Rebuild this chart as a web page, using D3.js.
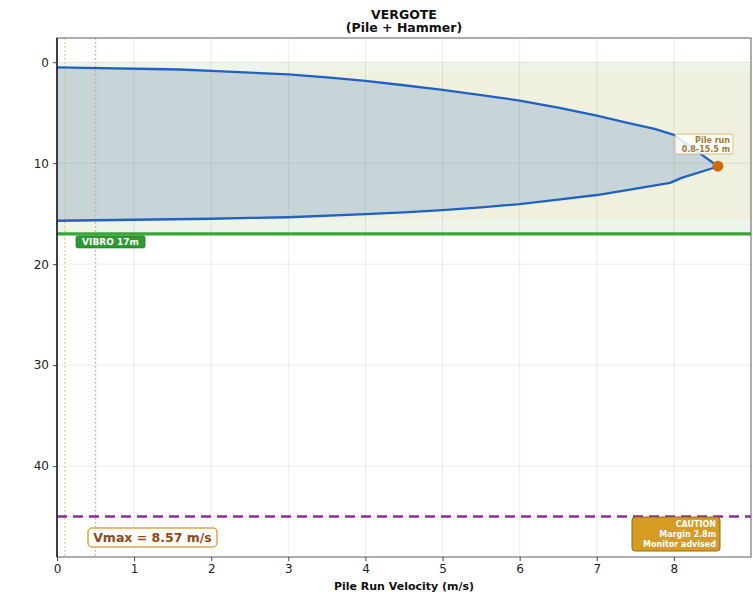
<!DOCTYPE html>
<html>
<head>
<meta charset="utf-8">
<script src="https://cdn.jsdelivr.net/npm/d3@7"></script>
<style>
  html, body { margin: 0; padding: 0; background: #ffffff; }
  svg { display: block; font-family: "DejaVu Sans", sans-serif; }
</style>
</head>
<body>
<svg id="chart" width="753" height="597"></svg>
<script>
// Velocity profile of the pile run versus depth
const depths     = [0.5, 0.72, 0.86, 1.03, 1.2, 1.5, 1.85, 2.28, 2.74, 3.25, 3.8, 4.5, 5.3, 6.0, 6.6, 7.2, 9.1, 10.3, 10.5, 11.45, 11.95, 12.6, 13.15, 13.6, 14.05, 14.38, 14.65, 14.87, 15.05, 15.35, 15.42, 15.5, 15.7];
const velocities = [0, 1.6, 2.0, 2.5, 3.0, 3.5, 4.0, 4.5, 5.0, 5.5, 6.0, 6.5, 7.0, 7.4, 7.75, 8.0, 8.35, 8.57, 8.5, 8.1, 7.95, 7.45, 7.0, 6.5, 6.0, 5.5, 5.0, 4.5, 4.0, 3.0, 2.5, 2.0, 0];

// Reference levels and limits
const pileRun = [0.8, 15.5];       // depth range of the pile run (m)
const vibroDepth = 17;             // vibro penetration depth (m)
const refuseDepth = 45;            // caution level (m)
const marginDepth = 2.8;           // margin (m)
const velocityMarkers = [0.1, 0.5];// reference velocities (m/s)
const peakVelocity = 8.57;
const peakDepth = 10.3;

const xTicks = [0, 1, 2, 3, 4, 5, 6, 7, 8];
const yTicks = [0, 10, 20, 30, 40];

const titleLines = ["VERGOTE", "(Pile + Hammer)"];
const xLabel = "Pile Run Velocity (m/s)";

const svg = d3.select("#chart");
const L = 57, R = 751, T = 38, B = 557;

const x = d3.scaleLinear().domain([0, 9.0]).range([L, R]);
const y = d3.scaleLinear().domain([-2.4, 49]).range([T, B]);

const profile = depths.map((d, i) => ({ d, v: velocities[i] }));

svg.append("defs").append("clipPath").attr("id", "plotClip")
  .append("rect").attr("x", L).attr("y", T).attr("width", R - L).attr("height", B - T);

const plot = svg.append("g").attr("clip-path", "url(#plotClip)");

// Depth spans: vibro zone and pile-run zone
plot.append("rect")
  .attr("x", L).attr("width", R - L)
  .attr("y", y(0)).attr("height", y(vibroDepth) - y(0))
  .attr("fill", "#edf4ea");
plot.append("rect")
  .attr("x", L).attr("width", R - L)
  .attr("y", y(pileRun[0])).attr("height", y(pileRun[1]) - y(pileRun[0]))
  .attr("fill", "#f0f0de");

// Filled velocity envelope
const area = d3.area()
  .x0(() => x(0))
  .x1(p => x(p.v))
  .y(p => y(p.d));
plot.append("path").datum(profile)
  .attr("d", area)
  .attr("fill", "#c7d5d9");

// Grid
const grid = plot.append("g").attr("stroke", "#000").attr("stroke-opacity", 0.08).attr("stroke-width", 1);
xTicks.forEach(t => grid.append("line")
  .attr("x1", x(t)).attr("x2", x(t)).attr("y1", T).attr("y2", B));
yTicks.forEach(t => grid.append("line")
  .attr("x1", L).attr("x2", R).attr("y1", y(t)).attr("y2", y(t)));

// Reference velocity lines
const markerColors = ["#d8c07a", "#e2a06a"];
velocityMarkers.forEach((v, i) => plot.append("line")
  .attr("x1", x(v)).attr("x2", x(v)).attr("y1", T).attr("y2", B)
  .attr("stroke", markerColors[i]).attr("stroke-width", 1.3)
  .attr("stroke-dasharray", "1.5,2.5"));

// Profile line
const line = d3.line().x(p => x(p.v)).y(p => y(p.d));
plot.append("path").datum(profile)
  .attr("d", line)
  .attr("fill", "none")
  .attr("stroke", "#1f62c4")
  .attr("stroke-width", 2.3)
  .attr("stroke-linejoin", "round");

// Vibro depth line
plot.append("line")
  .attr("x1", L).attr("x2", R).attr("y1", y(vibroDepth)).attr("y2", y(vibroDepth))
  .attr("stroke", "#36a835").attr("stroke-width", 3.2);

// Caution depth line
plot.append("line")
  .attr("x1", L).attr("x2", R).attr("y1", y(refuseDepth)).attr("y2", y(refuseDepth))
  .attr("stroke", "#8e2a9e").attr("stroke-width", 2.5)
  .attr("stroke-dasharray", "10,6");

// Peak velocity point
plot.append("circle")
  .attr("cx", x(peakVelocity)).attr("cy", y(peakDepth)).attr("r", 5.5)
  .attr("fill", "#d2690a");

// Frame
svg.append("rect")
  .attr("x", L).attr("y", T).attr("width", R - L).attr("height", B - T)
  .attr("fill", "none").attr("stroke", "#777").attr("stroke-width", 1.2);
svg.append("line")
  .attr("x1", L).attr("x2", L).attr("y1", T).attr("y2", B)
  .attr("stroke", "#1a1a2a").attr("stroke-width", 1.5);

// Axes
const xAxis = svg.append("g").attr("transform", `translate(0,${B})`)
  .call(d3.axisBottom(x).tickValues(xTicks).tickFormat(d3.format("d")).tickSize(4).tickPadding(3));
const yAxis = svg.append("g").attr("transform", `translate(${L},0)`)
  .call(d3.axisLeft(y).tickValues(yTicks).tickFormat(d3.format("d")).tickSize(4).tickPadding(4));
[xAxis, yAxis].forEach(a => {
  a.select(".domain").remove();
  a.selectAll(".tick line").attr("stroke", "#444");
  a.selectAll(".tick text").attr("fill", "#222").style("font-size", "12px")
    .style("font-family", "'DejaVu Sans', sans-serif");
});

// Title and axis label
svg.append("text").attr("x", (L + R) / 2).attr("y", 18.5).attr("text-anchor", "middle")
  .style("font-size", "12.5px").style("font-weight", "bold").attr("fill", "#111").text(titleLines[0]);
svg.append("text").attr("x", (L + R) / 2).attr("y", 32).attr("text-anchor", "middle")
  .style("font-size", "12.5px").style("font-weight", "bold").attr("fill", "#111").text(titleLines[1]);
svg.append("text").attr("x", (L + R) / 2).attr("y", 590).attr("text-anchor", "middle")
  .style("font-size", "11px").style("font-weight", "bold").attr("fill", "#111").text(xLabel);

// Vibro label
const vibroG = svg.append("g");
vibroG.append("rect").attr("x", 76).attr("y", y(vibroDepth) + 2).attr("width", 69).attr("height", 12)
  .attr("rx", 2).attr("fill", "#2f9a34").attr("stroke", "#217a26").attr("stroke-width", 0.8);
vibroG.append("text").attr("x", 110.5).attr("y", y(vibroDepth) + 11.5).attr("text-anchor", "middle")
  .style("font-size", "9px").style("font-weight", "bold").attr("fill", "#fff")
  .text(`VIBRO ${vibroDepth}m`);

// Pile run label
const prG = svg.append("g");
prG.append("rect").attr("x", 675).attr("y", 134).attr("width", 58).attr("height", 20)
  .attr("rx", 2).attr("fill", "#ffffff").attr("fill-opacity", 0.85)
  .attr("stroke", "#dcbc78").attr("stroke-width", 1);
prG.append("text").attr("x", 730).attr("y", 142.5).attr("text-anchor", "end")
  .style("font-size", "8px").style("font-weight", "bold").attr("fill", "#a27a33").text("Pile run");
prG.append("text").attr("x", 730).attr("y", 151.5).attr("text-anchor", "end")
  .style("font-size", "8px").style("font-weight", "bold").attr("fill", "#a27a33")
  .text(`${pileRun[0]}-${pileRun[1]} m`);

// Vmax label
const vG = svg.append("g");
vG.append("rect").attr("x", 88).attr("y", 528).attr("width", 129).attr("height", 19)
  .attr("rx", 4).attr("fill", "#fffcf5").attr("stroke", "#d9a55a").attr("stroke-width", 1.5);
vG.append("text").attr("x", 152.5).attr("y", 542).attr("text-anchor", "middle")
  .style("font-size", "12.5px").style("font-weight", "bold").attr("fill", "#8d4a1c")
  .text(`Vmax = ${peakVelocity.toFixed(2)} m/s`);

// Caution label
const cG = svg.append("g");
cG.append("rect").attr("x", 632).attr("y", 517).attr("width", 88).attr("height", 34)
  .attr("rx", 3).attr("fill", "#d59b22").attr("stroke", "#8c6a1c").attr("stroke-width", 1);
const cautionLines = ["CAUTION", `Margin ${marginDepth}m`, "Monitor advised"];
cautionLines.forEach((s, i) => cG.append("text")
  .attr("x", 716).attr("y", 527 + i * 10).attr("text-anchor", "end")
  .style("font-size", "8px").style("font-weight", "bold").attr("fill", "#fff").text(s));
</script>
</body>
</html>
